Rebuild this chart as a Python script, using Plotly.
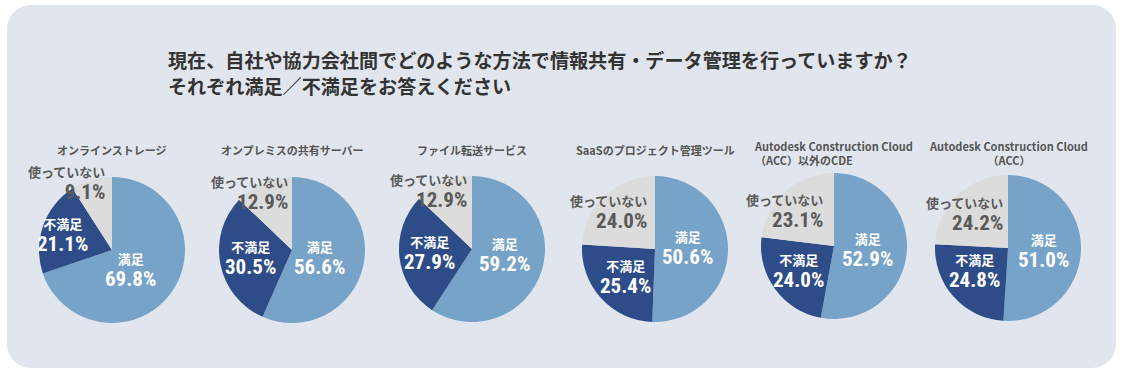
import plotly.graph_objects as go

# ---------------- data ----------------
title_lines = ["現在、自社や協力会社間でどのような方法で情報共有・データ管理を行っていますか？",
               "それぞれ満足／不満足をお答えください"]
categories = ["満足", "不満足", "使っていない"]
pie_titles = ["オンラインストレージ", "オンプレミスの共有サーバー", "ファイル転送サービス",
              "SaaSのプロジェクト管理ツール",
              "Autodesk Construction Cloud<br>（ACC）以外のCDE",
              "Autodesk Construction Cloud<br>（ACC）"]
satisfied = [69.8, 56.6, 59.2, 50.6, 52.9, 51.0]
dissatisfied = [21.1, 30.5, 27.9, 25.4, 24.0, 24.8]
not_used = [9.1, 12.9, 12.9, 24.0, 23.1, 24.2]

# ---------------- styles / layout ----------------
W, H = 1125, 376
colors = ["#76A3C7", "#2E4C87", "#DCDCDC"]
text_colors = ["#FFFFFF", "#FFFFFF", "#5A5A5A"]
panel_color = "#E1E5EE"
cjk = "Noto Sans CJK JP"
num_family = "Roboto Condensed"

centers = [(112, 250), (292, 250), (472, 249), (655, 249), (834, 246), (1008, 248)]
R = 73
title_pos = [(112, 150, "center"), (292, 150, "center"), (472, 150, "center"),
             (655, 150, "center"), (833, 153, "left"), (1008, 153, "center")]
# label block anchor (x, y-middle, anchor) per category per pie, pixel positions
label_pos = [
    [(130.5, 269.5, "center"), (62, 235, "center"), (107, 183, "right")],
    [(319.5, 257.5, "center"), (250.5, 257.5, "center"), (290, 193, "right")],
    [(504.5, 255, "center"), (429, 253, "center"), (469, 190.5, "right")],
    [(687, 247.5, "center"), (625.5, 277, "center"), (649, 211.5, "right")],
    [(867, 249.5, "center"), (798.5, 271, "center"), (825, 210.5, "right")],
    [(1043.5, 251, "center"), (974.5, 270.5, "center"), (1005, 214, "right")],
]

fig = go.Figure()

# rounded panel
x0, y0, x1, y1, rr = 7, 5, 1116, 368, 24
k = 0.55 * rr
path = (f"M {x0+rr},{y0} L {x1-rr},{y0} C {x1-rr+k},{y0} {x1},{y0+rr-k} {x1},{y0+rr} "
        f"L {x1},{y1-rr} C {x1},{y1-rr+k} {x1-rr+k},{y1} {x1-rr},{y1} "
        f"L {x0+rr},{y1} C {x0+rr-k},{y1} {x0},{y1-rr+k} {x0},{y1-rr} "
        f"L {x0},{y0+rr} C {x0},{y0+rr-k} {x0+rr-k},{y0} {x0+rr},{y0} Z")
shapes = [dict(type="path", path=path, xref="x", yref="y", fillcolor=panel_color,
               line=dict(width=0), layer="below")]

annotations = []
for i, line in enumerate(title_lines):
    annotations.append(dict(x=166, y=60 + 26 * i, xref="x", yref="y", text=f"<b>{line}</b>",
                            showarrow=False, xanchor="left", yanchor="middle",
                            font=dict(family=cjk, size=19.1, color="#333333")))

for p in range(6):
    cx, cy = centers[p]
    vals = [satisfied[p], dissatisfied[p], not_used[p]]
    fig.add_trace(go.Pie(
        labels=categories, values=vals, sort=False, direction="clockwise", rotation=0,
        marker=dict(colors=colors, line=dict(width=0)), textinfo="none", hoverinfo="label+value",
        showlegend=False,
        domain=dict(x=[(cx - R) / W, (cx + R) / W], y=[1 - (cy + R) / H, 1 - (cy - R) / H]),
    ))
    tx, ty, al = title_pos[p]
    annotations.append(dict(x=tx, y=ty, xref="x", yref="y", text=f"<b>{pie_titles[p]}</b>",
                            showarrow=False, xanchor="center", yanchor="middle", align=al,
                            font=dict(family=cjk, size=11, color="#555555")))
    for c in range(3):
        lx, ly, anc = label_pos[p][c]
        txt = (f"<span style='font-size:13px'><b>{categories[c]}</b></span><br>"
               f"<span style='font-family:{num_family};font-size:21px'><b>{vals[c]:.1f}%</b></span>")
        annotations.append(dict(x=lx, y=ly, xref="x", yref="y", text=txt,
                                showarrow=False, xanchor=anc, yanchor="middle", align=anc,
                                font=dict(family=cjk, size=17.3, color=text_colors[c])))

fig.update_layout(
    width=W, height=H, margin=dict(l=0, r=0, t=0, b=0),
    paper_bgcolor="white", plot_bgcolor="rgba(0,0,0,0)",
    xaxis=dict(range=[0, W], visible=False, fixedrange=True),
    yaxis=dict(range=[H, 0], visible=False, fixedrange=True),
    shapes=shapes, annotations=annotations,
)

fig.write_html("out.html", config={"displayModeBar": False},
               post_script="document.body.style.margin='0';")
